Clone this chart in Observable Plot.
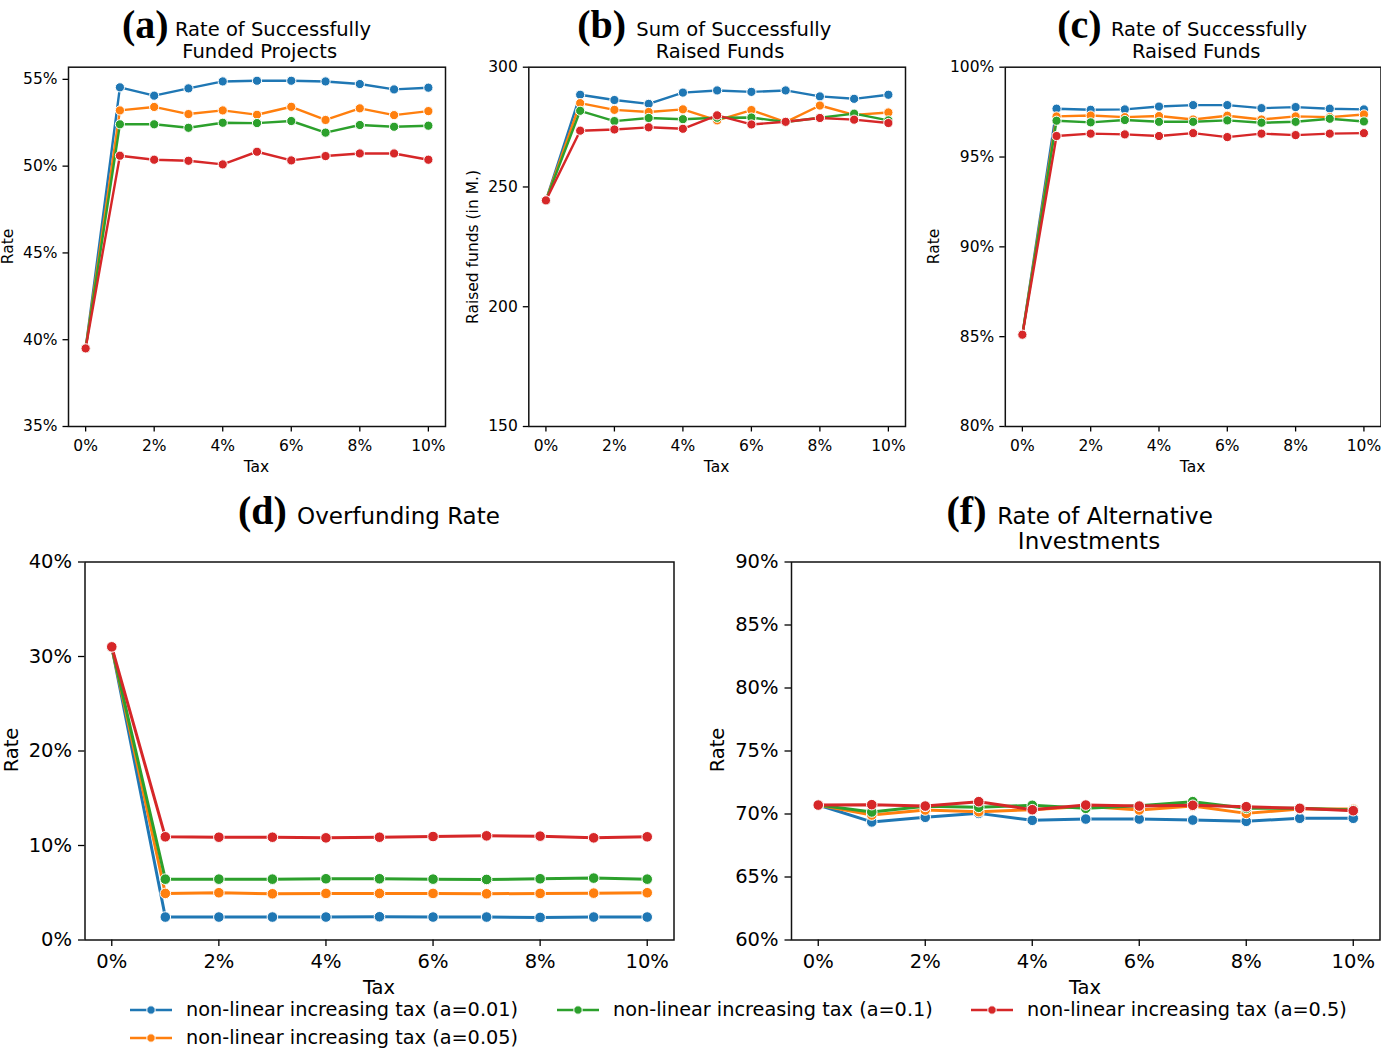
<!DOCTYPE html>
<html><head><meta charset="utf-8">
<script src="https://cdn.jsdelivr.net/npm/d3@7"></script>
<script src="https://cdn.jsdelivr.net/npm/@observablehq/plot@0.6"></script>
<style>
body{margin:0;background:#fff;}
#root{position:relative;width:1381px;height:1049px;overflow:hidden;font-family:"DejaVu Sans";color:#000;background:#fff;}
.entry{position:absolute;display:flex;align-items:center;height:20px;line-height:1;font-size:19.3px;white-space:nowrap;}
.entry svg{margin-right:14px;}
</style></head><body><div id="root"></div>
<script>
// ---------- data ----------
const tax = [0,1,2,3,4,5,6,7,8,9,10];
const xTicks = [0,2,4,6,8,10];
const seriesNames = ["non-linear increasing tax (a=0.01)","non-linear increasing tax (a=0.05)","non-linear increasing tax (a=0.1)","non-linear increasing tax (a=0.5)"];
const seriesColors = ["#1f77b4","#ff7f0e","#2ca02c","#d62728"];

// (a) Rate of successfully funded projects (%)
const funded_a001 = [39.5,54.54,54.06,54.48,54.88,54.92,54.92,54.88,54.73,54.42,54.52];
const funded_a005 = [39.5,53.21,53.41,53.0,53.21,52.96,53.42,52.66,53.33,52.94,53.17];
const funded_a01  = [39.5,52.41,52.41,52.21,52.5,52.48,52.6,51.93,52.37,52.27,52.33];
const funded_a05  = [39.5,50.6,50.37,50.31,50.1,50.83,50.33,50.58,50.73,50.73,50.37];
const fundedTicks = [35,40,45,50,55];

// (b) Sum of successfully raised funds (M.)
const sum_a001 = [244.4,288.5,286.3,284.7,289.4,290.3,289.7,290.3,287.8,286.8,288.5];
const sum_a005 = [244.4,285.0,282.2,281.3,282.4,277.8,282.1,277.1,284.0,280.1,281.1];
const sum_a01  = [244.4,281.8,277.5,278.8,278.3,278.9,279.0,277.1,278.9,280.6,277.8];
const sum_a05  = [244.4,273.5,274.0,274.9,274.3,279.9,276.1,277.2,278.8,278.1,276.7];
const sumTicks = [150,200,250,300];

// (c) Rate of successfully raised funds (%)
const raised_a001 = [85.11,97.69,97.63,97.65,97.81,97.89,97.89,97.72,97.78,97.69,97.65];
const raised_a005 = [85.11,97.26,97.31,97.22,97.28,97.09,97.3,97.09,97.26,97.22,97.37];
const raised_a01  = [85.11,97.02,96.93,97.06,96.96,96.96,97.04,96.91,96.96,97.13,96.98];
const raised_a05  = [85.11,96.17,96.3,96.26,96.17,96.33,96.11,96.3,96.22,96.3,96.33];
const raisedTicks = [80,85,90,95,100];

// (d) Overfunding rate (%)
const over_a001 = [31.0,2.43,2.43,2.43,2.43,2.46,2.43,2.43,2.39,2.43,2.43];
const over_a005 = [31.0,4.93,5.0,4.89,4.93,4.93,4.93,4.89,4.93,4.96,5.0];
const over_a01  = [31.0,6.44,6.44,6.44,6.48,6.48,6.44,6.41,6.48,6.55,6.44];
const over_a05  = [31.02,10.92,10.88,10.88,10.81,10.88,10.95,11.02,10.99,10.81,10.92];
const overTicks = [0,10,20,30,40];

// (f) Rate of alternative investments (%)
const alt_a001 = [70.71,69.37,69.74,70.05,69.5,69.6,69.6,69.52,69.42,69.66,69.66];
const alt_a005 = [70.71,69.92,70.32,70.18,70.34,70.61,70.32,70.63,70.05,70.4,70.4];
const alt_a01  = [70.71,70.16,70.61,70.53,70.69,70.45,70.66,70.98,70.45,70.45,70.32];
const alt_a05  = [70.71,70.74,70.63,70.98,70.34,70.71,70.63,70.69,70.58,70.45,70.26];
const altTicks = [60,65,70,75,80,85,90];

// ---------- drawing ----------
const root = document.getElementById("root");
function place(el, left, topPx) {
  el.style.position = "absolute"; el.style.left = left + "px"; el.style.top = topPx + "px";
  root.appendChild(el);
}
const pct = d => d + "%";

function makePanel(cfg) {
  const {box:[L,T,W,H], frame:[x0,y0,x1,y1], yDomain, yTicks, yFmt, series, font, tick, xPad, yPad, r, sw} = cfg;
  const marks = [];
  series.forEach((vals, i) => {
    const data = tax.map((t, j) => ({tax: t, value: vals[j], series: seriesNames[i]}));
    marks.push(Plot.line(data, {x: "tax", y: "value", stroke: seriesColors[i], strokeWidth: sw}));
    marks.push(Plot.dot(data, {x: "tax", y: "value", fill: seriesColors[i], stroke: "white", strokeWidth: 1, r}));
  });
  const chart = Plot.plot({
    width: W, height: H,
    marginLeft: x0 - L, marginRight: L + W - x1, marginTop: y0 - T, marginBottom: T + H - y1,
    style: {fontFamily: "DejaVu Sans", fontSize: font + "px", color: "#000", background: "transparent", overflow: "visible", maxWidth: "none"},
    x: {domain: [-0.5, 10.5]},
    y: {domain: yDomain},
    marks: [
      Plot.axisX({ticks: xTicks, tickFormat: pct, tickSize: tick, tickPadding: xPad, label: null, strokeWidth: 1.3}),
      Plot.axisY({ticks: yTicks, tickFormat: yFmt, tickSize: tick, tickPadding: yPad, label: null, strokeWidth: 1.3}),
      ...marks,
      Plot.frame({stroke: "#111", strokeWidth: 1.5})
    ]
  });
  place(chart, L, T);
}

const topStyle = {font: 15.5, tick: 5.5, xPad: 7.5, yPad: 5.5, r: 4.6, sw: 2.4};
const botStyle = {font: 19.5, tick: 6.5, xPad: 8, yPad: 6.5, r: 5.3, sw: 3};

makePanel({...topStyle, box:[0,50,460,430], frame:[68,66.7,445,426], yDomain:[35,55.7], yTicks: fundedTicks, yFmt: pct,
  series:[funded_a001,funded_a005,funded_a01,funded_a05]});
makePanel({...topStyle, box:[460,50,460,430], frame:[528.3,66.7,905,426], yDomain:[150,300], yTicks: sumTicks, yFmt: d => String(d),
  series:[sum_a001,sum_a005,sum_a01,sum_a05]});
makePanel({...topStyle, box:[920,50,461,430], frame:[1004.8,66.7,1380.5,426], yDomain:[80,100], yTicks: raisedTicks, yFmt: pct,
  series:[raised_a001,raised_a005,raised_a01,raised_a05]});
makePanel({...botStyle, box:[0,540,690,460], frame:[84.5,561.5,673.5,939.5], yDomain:[0,40], yTicks: overTicks, yFmt: pct,
  series:[over_a001,over_a005,over_a01,over_a05]});
makePanel({...botStyle, box:[690,540,691,460], frame:[791,561.5,1379.5,939.5], yDomain:[60,90], yTicks: altTicks, yFmt: pct,
  series:[alt_a001,alt_a005,alt_a01,alt_a05]});

// ---------- titles & axis labels ----------
const titles = [
  {tag:"(a)", tx:122, ty:38, size:19.5, lines:[["Rate of Successfully",273,35.7],["Funded Projects",259.7,57.5]]},
  {tag:"(b)", tx:577.3, ty:38, size:19.5, lines:[["Sum of Successfully",733.8,35.7],["Raised Funds",720,57.5]]},
  {tag:"(c)", tx:1057.3, ty:38, size:19.5, lines:[["Rate of Successfully",1209,35.7],["Raised Funds",1196.2,57.5]]},
  {tag:"(d)", tx:238, ty:524, size:23, lines:[["Overfunding Rate",398.5,524]]},
  {tag:"(f)", tx:946.5, ty:524, size:23, lines:[["Rate of Alternative",1105,523.5],["Investments",1089,548.5]]}
];
const xLabels = [["Tax",256.5,472,15.5],["Tax",716.6,472,15.5],["Tax",1192.6,472,15.5],["Tax",379,994,19.5],["Tax",1085,994,19.5]];
const yLabels = [["Rate",13.3,246.5,15.5],["Raised funds (in M.)",477.5,247,15.5],["Rate",938.7,246.5,15.5],["Rate",17.6,750,19.5],["Rate",724,750,19.5]];

const ov = d3.create("svg").attr("width",1381).attr("height",1049)
  .style("position","absolute").style("left","0px").style("top","0px")
  .style("font-family","DejaVu Sans").style("pointer-events","none");
titles.forEach(t => {
  ov.append("text").attr("x",t.tx).attr("y",t.ty).attr("font-family","Liberation Serif")
    .attr("font-weight","bold").attr("font-size",40).text(t.tag);
  t.lines.forEach(([s,cx,y]) => ov.append("text").attr("x",cx).attr("y",y).attr("text-anchor","middle").attr("font-size",t.size).text(s));
});
xLabels.forEach(([s,cx,y,f]) => ov.append("text").attr("x",cx).attr("y",y).attr("text-anchor","middle").attr("font-size",f).text(s));
yLabels.forEach(([s,x,cy,f]) => ov.append("text").attr("transform",`translate(${x},${cy}) rotate(-90)`).attr("text-anchor","middle").attr("font-size",f).text(s));
root.appendChild(ov.node());

// ---------- legend ----------
const legendCols = [130, 557, 971];
const legendRows = [1000, 1027.5];
seriesNames.forEach((name, i) => {
  const col = i < 2 ? 0 : i - 1;
  const row = i < 2 ? i : 0;
  const div = document.createElement("div");
  div.className = "entry";
  div.style.left = legendCols[col] + "px";
  div.style.top = legendRows[row] + "px";
  const sw = d3.create("svg").attr("width",42).attr("height",14);
  sw.append("line").attr("x1",0).attr("x2",42).attr("y1",7).attr("y2",7).attr("stroke",seriesColors[i]).attr("stroke-width",2.5);
  sw.append("circle").attr("cx",21).attr("cy",7).attr("r",4.2).attr("fill",seriesColors[i]).attr("stroke","white").attr("stroke-width",1);
  div.appendChild(sw.node());
  const span = document.createElement("span");
  span.textContent = name;
  div.appendChild(span);
  root.appendChild(div);
});
</script></body></html>
